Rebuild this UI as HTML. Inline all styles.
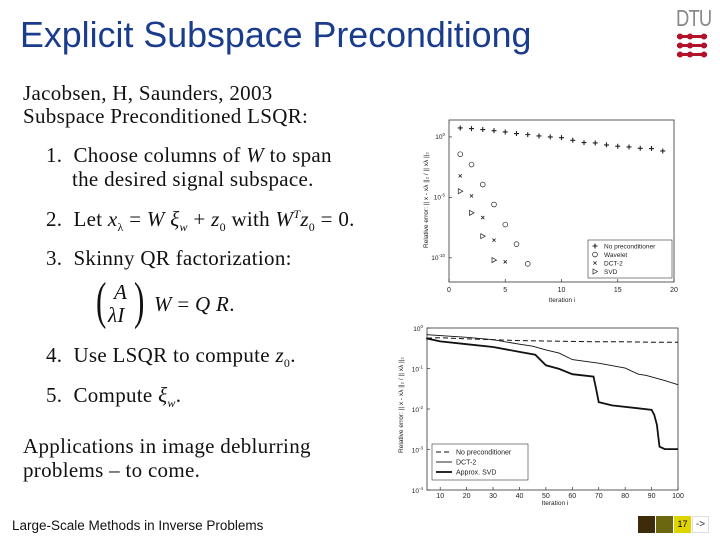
<!DOCTYPE html>
<html><head><meta charset="utf-8">
<style>
body{margin:0;width:720px;height:540px;background:#fff;overflow:hidden;position:relative;font-family:"Liberation Serif",serif;}
.t{position:absolute;white-space:nowrap;font-size:21px;letter-spacing:0.3px;color:#111;line-height:1;}
i{font-style:italic}
</style></head><body>
<div style="position:absolute;left:20px;top:15px;font-family:'Liberation Sans',sans-serif;font-size:35.8px;color:#1a3c8c;">Explicit Subspace Preconditiong</div>
<div style="position:absolute;left:676px;top:5px;width:40px;height:55px;">
<div style="font-family:'Liberation Sans',sans-serif;font-size:23px;color:#888;letter-spacing:-1px;transform:scaleX(0.8);transform-origin:left">DTU</div>
<svg width="40" height="32" style="position:absolute;left:-2px;top:27px">
<g fill="#b3122a"><rect x="3" y="3" width="30" height="3"/><rect x="3" y="12" width="30" height="3"/><rect x="3" y="21" width="30" height="3"/>
<circle cx="6" cy="4.5" r="3"/><circle cx="16" cy="4.5" r="3"/><circle cx="30" cy="4.5" r="3"/><circle cx="6" cy="13.5" r="3"/><circle cx="16" cy="13.5" r="3"/><circle cx="30" cy="13.5" r="3"/><circle cx="6" cy="22.5" r="3"/><circle cx="16" cy="22.5" r="3"/><circle cx="30" cy="22.5" r="3"/></g></svg>
</div>

<div class="t" style="left:23px;top:83px">Jacobsen, H, Saunders, 2003</div>
<div class="t" style="left:23px;top:106px">Subspace Preconditioned LSQR:</div>
<div class="t" style="left:46px;top:145px">1.&nbsp; Choose columns of <i>W</i> to span</div>
<div class="t" style="left:72px;top:169px">the desired signal subspace.</div>
<div class="t" style="left:46px;top:208px">2.&nbsp; Let <i>x</i><sub style="font-size:12px">λ</sub> = <i>W ξ</i><sub style="font-size:12px"><i>w</i></sub> + <i>z</i><sub style="font-size:12px">0</sub> with <i>W</i><sup style="font-size:12px"><i>T</i></sup><i>z</i><sub style="font-size:12px">0</sub> = 0.</div>
<div class="t" style="left:46px;top:248px">3.&nbsp; Skinny QR factorization:</div>
<div class="t" style="left:96px;top:280px;height:50px">
<span style="position:absolute;left:0;top:-4px;font-size:52px;transform:scaleX(0.6);transform-origin:left">(</span>
<span style="position:absolute;left:18px;top:2px;font-style:italic">A</span>
<span style="position:absolute;left:12px;top:25px;font-style:italic">λI</span>
<span style="position:absolute;left:38px;top:-4px;font-size:52px;transform:scaleX(0.6);transform-origin:left">)</span>
<span style="position:absolute;left:58px;top:14px"><i>W</i> = <i>Q R</i>.</span></div>
<div class="t" style="left:46px;top:345px">4.&nbsp; Use LSQR to compute <i>z</i><sub style="font-size:12px">0</sub>.</div>
<div class="t" style="left:46px;top:385px">5.&nbsp; Compute <i>ξ</i><sub style="font-size:12px"><i>w</i></sub>.</div>
<div class="t" style="left:23px;top:436px">Applications in image deblurring</div>
<div class="t" style="left:23px;top:460px">problems – to come.</div>

<div style="position:absolute;left:12px;top:518px;font-family:'Liberation Sans',sans-serif;font-size:13.5px;color:#111">Large-Scale Methods in Inverse Problems</div>
<div style="position:absolute;left:638px;top:516px;width:17px;height:17px;background:#3d2b0a"></div>
<div style="position:absolute;left:656px;top:516px;width:17px;height:17px;background:#6b6610"></div>
<div style="position:absolute;left:674px;top:516px;width:17px;height:17px;background:#e0d400;font:9px 'Liberation Sans',sans-serif;text-align:center;line-height:17px">17</div>
<div style="position:absolute;left:692px;top:516px;width:17px;height:17px;background:#fff;border:1px solid #ddd;box-sizing:border-box;font:10px 'Liberation Sans',sans-serif;text-align:center;line-height:15px;color:#333">-&gt;</div>

<svg id="c1" width="720" height="540" style="position:absolute;left:0;top:0" font-family="Liberation Sans, sans-serif"></svg>

<script>
const topIter = [1,2,3,4,5,6,7,8,9,10,11,12,13,14,15,16,17,18,19];
const topNoPre = [0.74,0.69,0.61,0.52,0.41,0.28,0.19,0.08,0,-0.06,-0.28,-0.47,-0.5,-0.66,-0.77,-0.83,-0.94,-0.96,-1.16];
const topWaveletX = [1,2,3,4,5,6,7];
const topWavelet = [-1.43,-2.29,-3.94,-5.59,-7.25,-8.87,-10.5];
const topDctX = [1,2,3,4,5];
const topDct = [-3.22,-4.88,-6.67,-8.54,-10.33];
const topSvdX = [1,2,3,4];
const topSvd = [-4.49,-6.28,-8.21,-10.19];
const topXTicks = [0,5,10,15,20];
const topYTicks = [0,-5,-10];

const botNoPreX = [1,10,20,30,40,50,60,70,80,90,100];
const botNoPre = [-0.25,-0.24,-0.27,-0.29,-0.31,-0.32,-0.33,-0.34,-0.34,-0.35,-0.35];
const botDctX = [1,5,20,30,40,45,50,55,60,70,80,85,88,95,100];
const botDct = [-0.14,-0.165,-0.23,-0.29,-0.40,-0.45,-0.54,-0.62,-0.78,-0.87,-0.99,-1.14,-1.17,-1.30,-1.40];
const botSvdX = [1,5,10,20,30,40,46,50,55,60,68,69,70,75,90,91,92,93,95,100];
const botSvd = [-0.24,-0.26,-0.33,-0.40,-0.47,-0.59,-0.66,-0.92,-1.01,-1.14,-1.2,-1.5,-1.83,-1.91,-2.02,-2.14,-2.39,-2.93,-2.99,-2.99];
const botXTicks = [10,20,30,40,50,60,70,80,90,100];
const botYTicks = [0,-1,-2,-3,-4];

const svg = document.getElementById('c1');
const NS='http://www.w3.org/2000/svg';
function mk(tag, attrs, parent){const e=document.createElementNS(NS,tag);for(const k in attrs)e.setAttribute(k,attrs[k]);(parent||svg).appendChild(e);return e;}
function txt(x,y,s,size,anchor,name,rot){const e=mk('text',{x:x,y:y,'font-size':size,'text-anchor':anchor||'middle',fill:'#222'});if(rot)e.setAttribute('transform','rotate(-90 '+x+' '+y+')');e.textContent=s;return e;}

// ---- top chart
const T={l:449,r:674,t:120,b:282,x0:0,x1:20,y0:-12,y1:1.4};
const tx=v=>T.l+(v-T.x0)/(T.x1-T.x0)*(T.r-T.l);
const ty=v=>T.b-(v-T.y0)/(T.y1-T.y0)*(T.b-T.t);
let fr=mk('rect',{x:T.l,y:T.t,width:T.r-T.l,height:T.b-T.t,fill:'none',stroke:'#333','stroke-width':0.8});

topXTicks.forEach(v=>{mk('line',{x1:tx(v),x2:tx(v),y1:T.b,y2:T.b-3,stroke:'#333','stroke-width':0.7});txt(tx(v),T.b+10,String(v),7,'middle','top-x-tick');});
topYTicks.forEach(v=>{mk('line',{x1:T.l,x2:T.l+3,y1:ty(v),y2:ty(v),stroke:'#333','stroke-width':0.7});const e=txt(T.l-4,ty(v)+2,'10',6.5,'end','top-y-tick');const s=mk('tspan',{dy:-3,'font-size':4.5},e);s.textContent=String(v);});
txt(562,302,'Iteration i',6.5,'middle','top-x-axis-title');
txt(428,200,'Relative error: || x - xλ ||₂ / || xλ ||₂',6.5,'middle','top-y-axis-title',true);
function marker(kind,x,y,g){
 if(kind==='plus'){mk('path',{d:`M${x-2.5} ${y}h5M${x} ${y-2.5}v5`,stroke:'#222','stroke-width':1.1},g);}
 else if(kind==='circ'){mk('circle',{cx:x,cy:y,r:2.4,fill:'none',stroke:'#222','stroke-width':0.7},g);}
 else if(kind==='x'){mk('path',{d:`M${x-1.6} ${y-1.6}l3.2 3.2M${x+1.6} ${y-1.6}l-3.2 3.2`,stroke:'#222','stroke-width':0.8},g);}
 else {mk('path',{d:`M${x-2} ${y-2.5}L${x+2.5} ${y}L${x-2} ${y+2.5}Z`,fill:'none',stroke:'#222','stroke-width':0.7},g);}
}
[['plus',topIter,topNoPre,'series-no-preconditioner'],['circ',topWaveletX,topWavelet,'series-wavelet'],['x',topDctX,topDct,'series-dct2'],['tri',topSvdX,topSvd,'series-svd']].forEach(([k,xs,ys,n])=>{
 const g=mk('g',{});
 xs.forEach((v,i)=>marker(k,tx(v),ty(ys[i]),g));
});
const lg=mk('g',{});
mk('rect',{x:588,y:240,width:84,height:38,fill:'#fff',stroke:'#333','stroke-width':0.6},lg);
[['plus','No preconditioner'],['circ','Wavelet'],['x','DCT-2'],['tri','SVD']].forEach(([k,s],i)=>{marker(k,595,246+i*8.5,lg);const e=txt(604,248.5+i*8.5,s,6.5,'start','top-legend-entry');lg.appendChild(e);});

// ---- bottom chart
const B={l:427,r:678,t:328,b:490,x0:5,x1:100,y0:-4,y1:0};
const bx=v=>B.l+(v-B.x0)/(B.x1-B.x0)*(B.r-B.l);
const by=v=>B.b-(v-B.y0)/(B.y1-B.y0)*(B.b-B.t);
fr=mk('rect',{x:B.l,y:B.t,width:B.r-B.l,height:B.b-B.t,fill:'none',stroke:'#333','stroke-width':0.8});

botXTicks.forEach(v=>{mk('line',{x1:bx(v),x2:bx(v),y1:B.b,y2:B.b-3,stroke:'#333','stroke-width':0.7});txt(bx(v),B.b+8,String(v),7,'middle','bottom-x-tick');});
botYTicks.forEach(v=>{mk('line',{x1:B.l,x2:B.l+3,y1:by(v),y2:by(v),stroke:'#333','stroke-width':0.7});const e=txt(B.l-4,by(v)+3,'10',6.5,'end','bottom-y-tick');const s=mk('tspan',{dy:-3,'font-size':4.5},e);s.textContent=String(v);});
txt(555,505,'Iteration i',6.5,'middle','bottom-x-axis-title');
txt(403,405,'Relative error: || x - xλ ||₂ / || xλ ||₂',6.5,'middle','bottom-y-axis-title',true);
function line(xs,ys,attrs,name){const d=xs.map((v,i)=>(i?'L':'M')+bx(Math.max(v,B.x0)).toFixed(1)+' '+by(ys[i]).toFixed(1)).join('');const p=mk('path',Object.assign({d:d,fill:'none',stroke:'#111'},attrs));}
line(botNoPreX,botNoPre,{'stroke-width':1,'stroke-dasharray':'5 3'},'line-no-preconditioner');
line(botDctX,botDct,{'stroke-width':0.9},'line-dct2');
line(botSvdX,botSvd,{'stroke-width':1.8},'line-approx-svd');
const lg2=mk('g',{});
mk('rect',{x:432,y:444,width:96,height:36,fill:'#fff',stroke:'#333','stroke-width':0.6},lg2);
[['5 3',1,'No preconditioner'],['',0.9,'DCT-2'],['',1.8,'Approx. SVD']].forEach(([da,w,s],i)=>{const y=452+i*10;mk('line',{x1:436,x2:452,y1:y,y2:y,stroke:'#111','stroke-width':w,'stroke-dasharray':da},lg2);lg2.appendChild(txt(456,y+2.5,s,7,'start','bottom-legend-entry'));});
</script>
</body></html>
